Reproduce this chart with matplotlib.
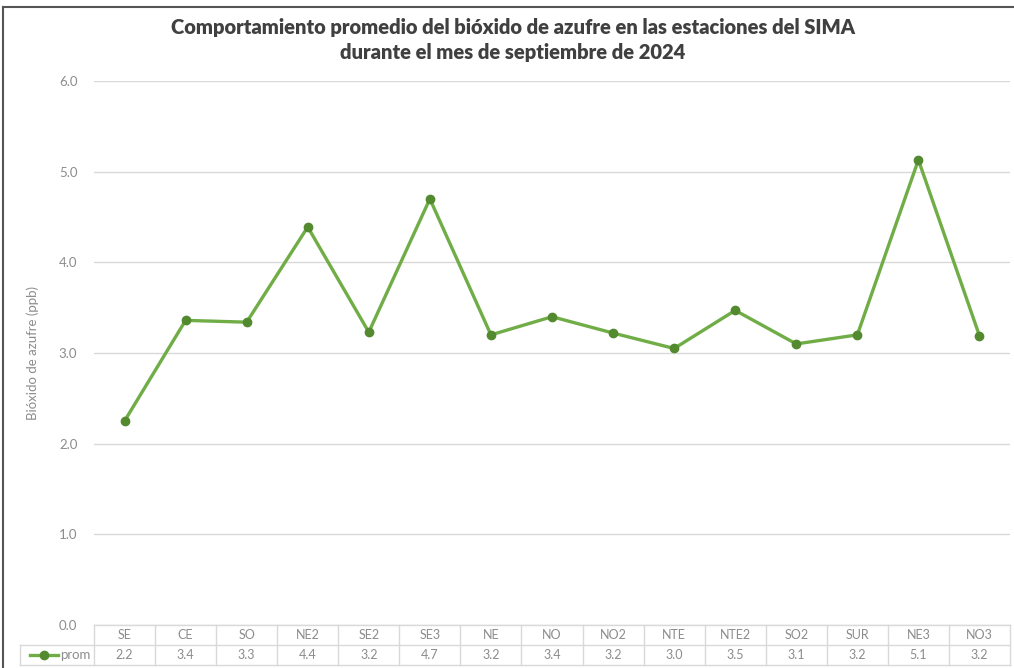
import matplotlib
matplotlib.use("Agg")
import matplotlib.pyplot as plt
from matplotlib.lines import Line2D
from matplotlib.transforms import blended_transform_factory

stations = ["SE", "CE", "SO", "NE2", "SE2", "SE3", "NE", "NO", "NO2", "NTE",
            "NTE2", "SO2", "SUR", "NE3", "NO3"]
prom = [2.25, 3.36, 3.34, 4.39, 3.23, 4.70, 3.20, 3.40, 3.22, 3.05,
        3.47, 3.10, 3.20, 5.13, 3.19]
series_name = "prom"
yticks = [0.0, 1.0, 2.0, 3.0, 4.0, 5.0, 6.0]
title = ("Comportamiento promedio del bióxido de azufre en las estaciones del SIMA\n"
         "durante el mes de septiembre de 2024")
ylabel = "Bióxido de azufre (ppb)"

LINE = "#70ad47"
MARK = "#548a2f"
GRID = "#d9d9d9"
TXT = "#8c8c8c"
plt.rcParams['font.family'] = ['Lato', 'DejaVu Sans']

fig = plt.figure(figsize=(10.14, 6.68), dpi=100)
W, H = 1014, 668
left, right, top, bottom = 94, 1010, 81, 625
ax = fig.add_axes([left / W, 1 - bottom / H, (right - left) / W, (bottom - top) / H])

x = list(range(len(stations)))
ax.plot(x, prom, color=LINE, lw=2.4, marker="o", ms=6, mfc=MARK, mec=MARK, zorder=3)
ax.set_xlim(-0.5, len(stations) - 0.5)
ax.set_ylim(0, 6)
ax.set_yticks(yticks)
ax.set_yticklabels([f"{v:.1f}" for v in yticks], color=TXT, fontsize=9.5)
ax.tick_params(axis="y", length=0, pad=12)
ax.set_xticks([])
ax.grid(axis="y", color=GRID, lw=1)
ax.set_axisbelow(True)
for s in ax.spines.values():
    s.set_visible(False)
ax.set_ylabel(ylabel, color=TXT, fontsize=9.5, labelpad=14)

# data table under the axes
rowh = 20 / (bottom - top)
trans = blended_transform_factory(ax.transData, ax.transAxes)
tcol = "#d9d9d9"
n = len(stations)
label_left = -0.5 - (94 - 20) / ((right - left) / n)
for k, y0 in enumerate([0, -rowh, -2 * rowh]):
    x0 = -0.5 if k == 0 else label_left
    ax.add_line(Line2D([x0, n - 0.5], [y0, y0], transform=trans, color=tcol, lw=1, clip_on=False))
for i in range(n + 1):
    ax.add_line(Line2D([i - 0.5, i - 0.5], [0, -2 * rowh], transform=trans, color=tcol, lw=1, clip_on=False))
ax.add_line(Line2D([label_left, label_left], [-rowh, -2 * rowh], transform=trans, color=tcol, lw=1, clip_on=False))
for i, (s, v) in enumerate(zip(stations, prom)):
    ax.text(i, -0.5 * rowh, s, transform=trans, ha="center", va="center", color=TXT, fontsize=9)
    ax.text(i, -1.5 * rowh, f"{v:.1f}", transform=trans, ha="center", va="center", color=TXT, fontsize=9)
lx0 = label_left + 0.16
lx1 = label_left + 0.63
ax.add_line(Line2D([lx0, lx1], [-1.5 * rowh] * 2, transform=trans, color=LINE, lw=2.4, clip_on=False))
ax.add_line(Line2D([(lx0 + lx1) / 2], [-1.5 * rowh], transform=trans, marker="o", ms=6,
                   mfc=MARK, mec=MARK, clip_on=False))
ax.text(lx1 + 0.03, -1.5 * rowh, series_name, transform=trans, ha="left", va="center",
        color=TXT, fontsize=9.5)

fig.suptitle(title, x=513 / W, y=1 - 18 / H, va="top", fontsize=14.5, fontweight="heavy",
             color="#404040", linespacing=1.4)

fig.add_artist(Line2D([3 / W, 3 / W], [0, 1 - 7 / H], color="#555555", lw=1.5))
fig.add_artist(Line2D([3 / W, 1], [1 - 7 / H, 1 - 7 / H], color="#555555", lw=1.5))

fig.savefig("out.png", dpi=100)
